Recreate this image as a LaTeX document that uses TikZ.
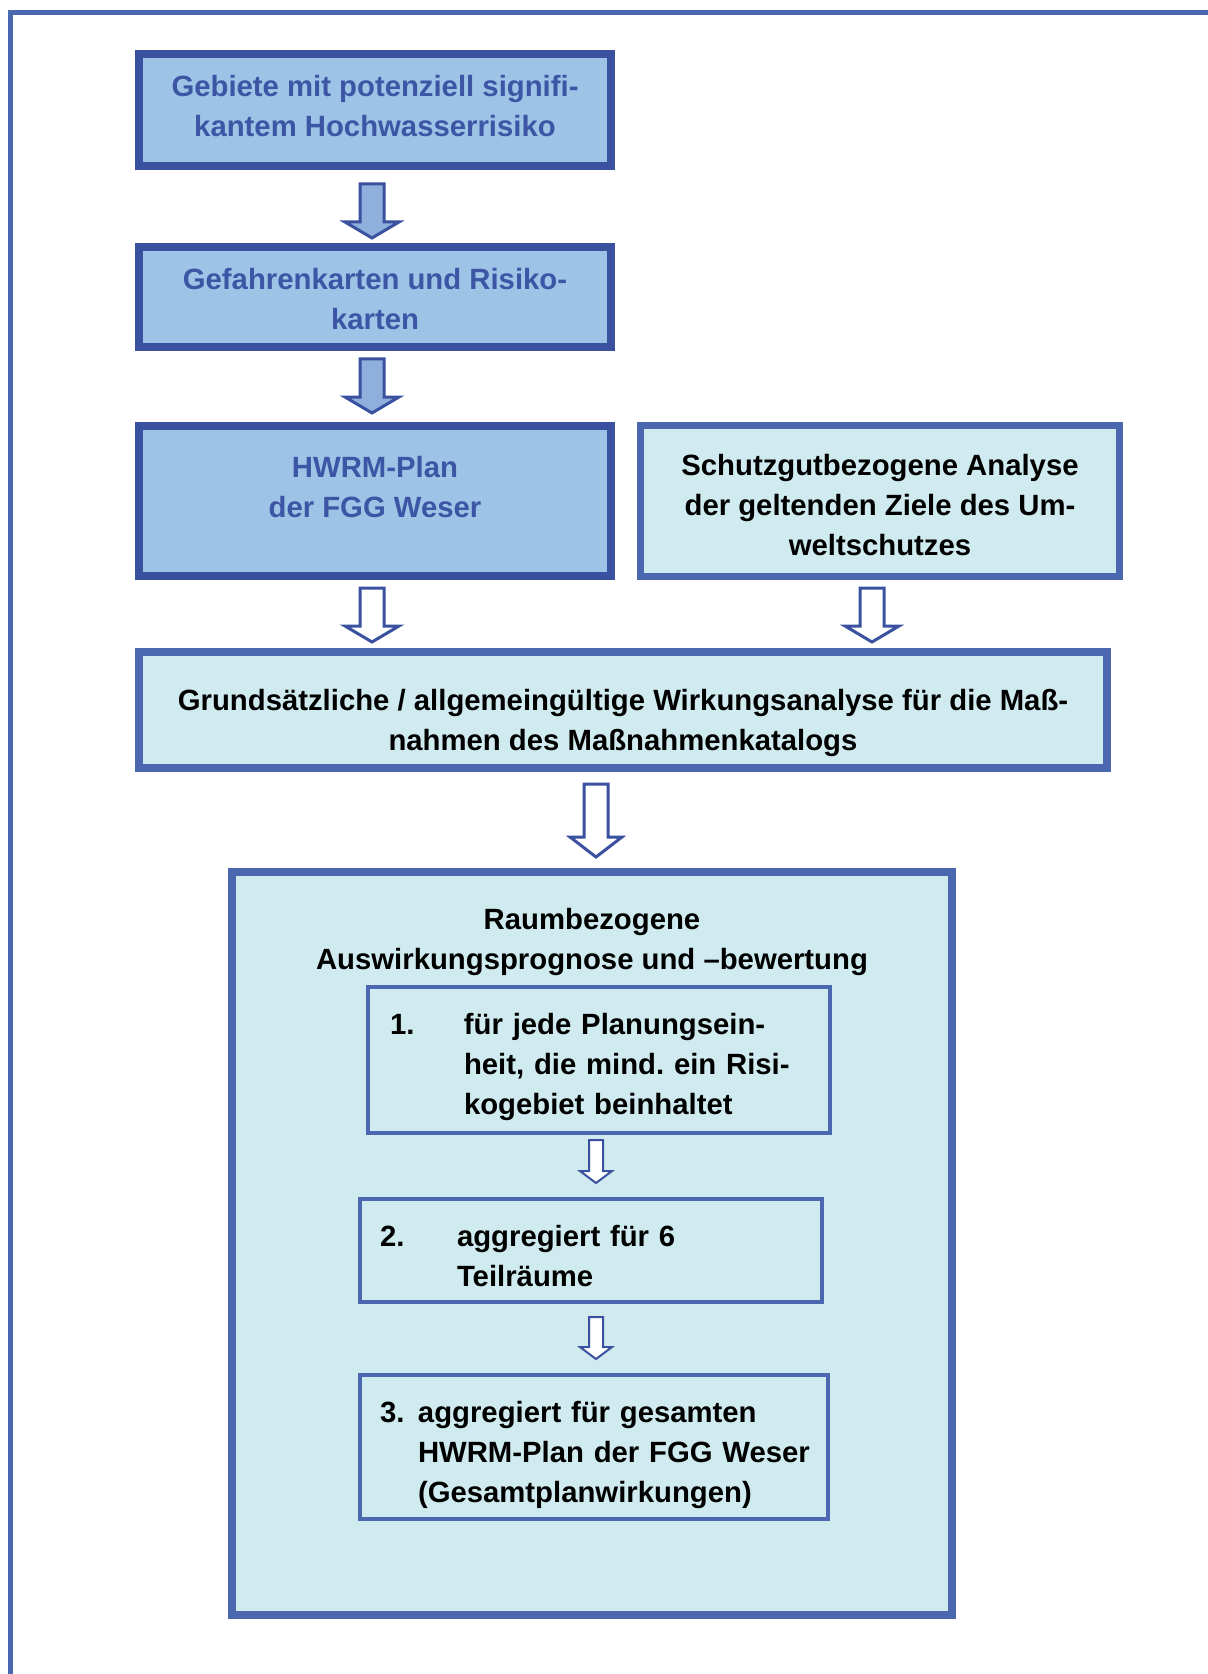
\documentclass[tikz,border=0pt]{standalone}
\usepackage{fontspec}
\setmainfont{Liberation Sans}
\usepackage{tikz}
\usetikzlibrary{calc}
\usetikzlibrary{positioning}
\frenchspacing

\definecolor{darkframe}{HTML}{3A51A0}
\definecolor{midframe}{HTML}{4A67B0}
\definecolor{paleblue}{HTML}{9DC3E6}
\definecolor{arrowblue}{HTML}{8FAFDC}
\definecolor{palecyan}{HTML}{CFEBEF}
\definecolor{plantext}{HTML}{3C55A5}

\newcommand\blockarrow[6][]{%
    \draw[#1] let \p1=#2, \p2=#3 in
        (\x1-#4,\y1) -- (\x1+#4,\y1) -- (\x1+#4,\y2+#6) -- (\x1+#5,\y2+#6)
        -- (\x1,\y2) -- (\x1-#5,\y2+#6) -- (\x1-#4,\y2+#6) -- cycle;}

\begin{document}
\begin{tikzpicture}[x=0.5pt,y=-0.5pt,
        every node/.style={font=\fontsize{14.65}{20}\selectfont\bfseries,inner sep=0pt},
        textdrop/.style={execute at begin node={\rule{0pt}{#1}},execute at end node={\rule[-6pt]{0pt}{6pt}}},
        planbox/.style={draw=darkframe,line width=4pt,fill=paleblue,text=plantext,align=flush center,text width=236pt},
        cyanbox/.style={draw=midframe,line width=4pt,fill=palecyan,align=flush center},
        stepbox/.style={draw=midframe,line width=2pt,fill=palecyan,align=left,inner xsep=#1},
        fillarrow/.style={draw=darkframe,fill=arrowblue,line width=1.5pt},
        openarrow/.style={draw=darkframe,fill=white,line width=1.5pt},
        smallarrow/.style={openarrow,line width=1pt}]
    \useasboundingbox (0,0) rectangle (1208,1674);
    \draw[midframe,line width=2.5pt] (10,1674) -- (10,12.5) -- (1208,12.5);

    \node[planbox,textdrop=12.6pt,minimum height=56pt] (gebiete) at (375,110) {Gebiete mit potenziell signifi-\\kantem Hochwasserrisiko};
    \node[planbox,textdrop=18.4pt,minimum height=50pt] (karten) at (375,297) {Gefahrenkarten und Risiko-\\karten};
    \node[planbox,textdrop=22.6pt,minimum height=75pt] (plan) at (375,501) {HWRM-Plan\\der FGG Weser\\\mbox{}};
    \node[cyanbox,textdrop=20.6pt,line width=3.5pt,text width=239.5pt,minimum height=75.5pt] (schutz) at (880,501) {Schutzgutbezogene Analyse\\der geltenden Ziele des Um-\\weltschutzes};
    \node[cyanbox,textdrop=26.6pt,text width=484pt,minimum height=58pt] (wirkung) at (623,710) {Grundsätzliche / allgemeingültige Wirkungsanalyse für die Maß-\\nahmen des Maßnahmenkatalogs};
    \node[cyanbox,text width=360pt,minimum height=371.5pt] (raum) at (592,1243.5) {};
    \node[align=center,below=20pt of raum.north] (raumtitel) {Raumbezogene\\Auswirkungsprognose und –bewertung};

    \node[stepbox=11pt,textdrop=20.3pt,text width=209pt,minimum height=73pt] (eins) at (599,1060) {\makebox[37pt][l]{1.}für jede Planungsein-\\\hspace*{37pt}heit, die mind. ein Risi-\\\hspace*{37pt}kogebiet beinhaltet};
    \node[stepbox=10pt,textdrop=21.6pt,text width=211pt,minimum height=51.5pt] (zwei) at (591,1250.5) {\makebox[38.5pt][l]{2.}aggregiert für 6\\\hspace*{38.5pt}Teilräume};
    \node[stepbox=10pt,textdrop=21.9pt,text width=214pt,minimum height=72pt] (drei) at (594,1447) {\makebox[19pt][l]{3.}aggregiert für gesamten\\\hspace*{19pt}\mbox{HWRM-Plan der FGG Weser}\\\hspace*{19pt}(Gesamtplanwirkungen)};

    \blockarrow[fillarrow]{([xshift=-1.5pt,yshift=-7pt]gebiete.south)}{([yshift=2.5pt]karten.north)}{6pt}{13.5pt}{8pt}
    \blockarrow[fillarrow]{([xshift=-1.5pt,yshift=-4pt]karten.south)}{([yshift=4.5pt]plan.north)}{6pt}{13.5pt}{8pt}
    \blockarrow[openarrow]{([xshift=-1.5pt,yshift=-4pt]plan.south)}{([yshift=3pt]wirkung.north)}{6pt}{13.5pt}{8pt}
    \blockarrow[openarrow]{([xshift=-4pt,yshift=-4pt]schutz.south)}{([yshift=3pt]wirkung.north)}{6pt}{13.5pt}{8pt}
    \blockarrow[openarrow]{([xshift=-13.5pt,yshift=-6pt]wirkung.south)}{([yshift=5.5pt]raum.north)}{6pt}{13pt}{10pt}
    \blockarrow[smallarrow]{([xshift=-1.5pt,yshift=-2.5pt]eins.south)}{([yshift=7pt]zwei.north)}{3.5pt}{8pt}{6pt}
    \blockarrow[smallarrow]{([xshift=2.5pt,yshift=-6.5pt]zwei.south)}{([yshift=7pt]drei.north)}{3.5pt}{8pt}{6pt}
\end{tikzpicture}
\end{document}
